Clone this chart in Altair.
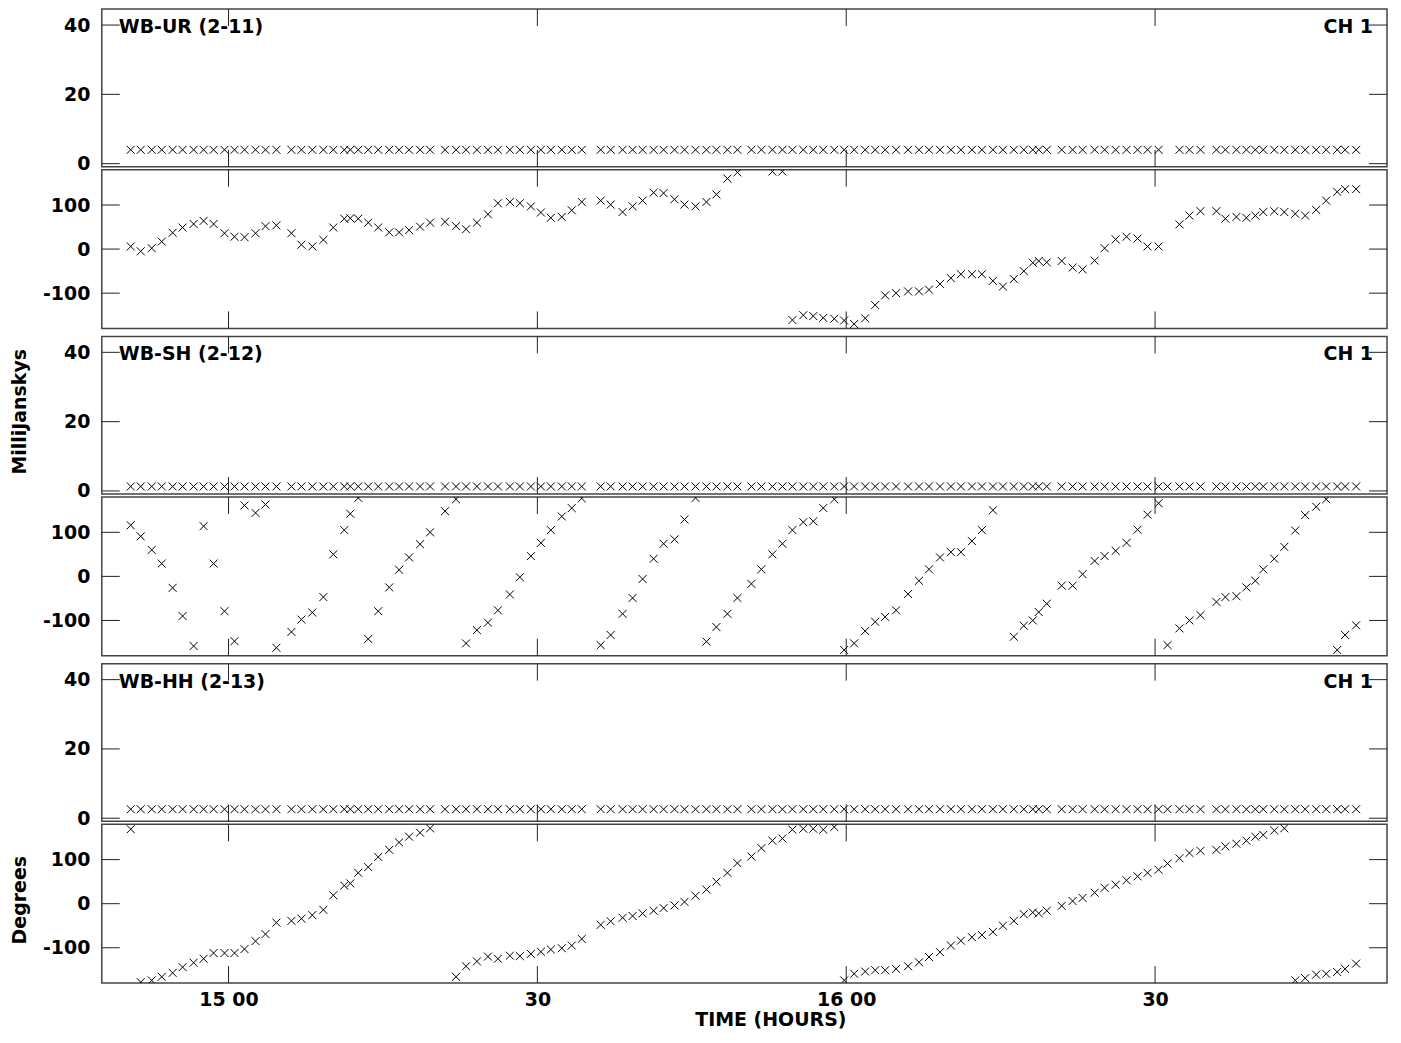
import altair as alt
import pandas as pd

# ---------------- data ----------------
# integration times, minutes after 15:00
TIME_MIN = [
    -9.50, -8.53, -7.46, -6.49, -5.43, -4.46, -3.39, -2.42, -1.45, -0.39, 0.58, 1.55, 2.62, 3.59, 4.65,
    6.11, 7.08, 8.14, 9.21, 10.18, 11.24, 11.83, 12.60, 13.57, 14.54, 15.61, 16.57, 17.54, 18.61, 19.58,
    21.03, 22.10, 23.07, 24.13, 25.20, 26.17, 27.33, 28.30, 29.37, 30.34, 31.31, 32.37, 33.34, 34.31,
    36.15, 37.12, 38.28, 39.25, 40.22, 41.29, 42.26, 43.32, 44.29, 45.36, 46.42, 47.39, 48.46, 49.43,
    50.79, 51.76, 52.83, 53.80, 54.77, 55.83, 56.80, 57.77, 58.84, 59.80, 60.77, 61.84, 62.81, 63.78, 64.84,
    66.01, 67.07, 68.04, 69.11, 70.17, 71.14, 72.21, 73.18, 74.25, 75.22, 76.28, 77.25, 78.12, 78.70, 79.48,
    80.93, 81.99, 82.96, 84.13, 85.10, 86.17, 87.23, 88.30, 89.27, 90.34,
    91.21, 92.37, 93.34, 94.41,
    95.96, 96.83, 97.90, 98.87, 99.74, 100.51, 101.58, 102.55, 103.62, 104.58, 105.65, 106.62, 107.69, 108.46, 109.53,
]

N = None

AMP_WB_UR = [
    4.0, 4.0, 4.0, 4.0, 4.0, 4.0, 4.0, 4.0, 4.0, 4.0, 4.0, 4.0, 4.0, 4.0, 4.0,
    4.0, 4.0, 4.0, 4.0, 4.0, 4.0, 4.0, 4.0, 4.0, 4.0, 4.0, 4.0, 4.0, 4.0, 4.0,
    4.0, 4.0, 4.0, 4.0, 4.0, 4.0, 4.0, 4.0, 4.0, 4.0, 4.0, 4.0, 4.0, 4.0,
    4.0, 4.0, 4.0, 4.0, 4.0, 4.0, 4.0, 4.0, 4.0, 4.0, 4.0, 4.0, 4.0, 4.0,
    4.0, 4.0, 4.0, 4.0, 4.0, 4.0, 4.0, 4.0, 4.0, 4.0, 4.0, 4.0, 4.0, 4.0, 4.0,
    4.0, 4.0, 4.0, 4.0, 4.0, 4.0, 4.0, 4.0, 4.0, 4.0, 4.0, 4.0, 4.0, 4.0, 4.0,
    4.0, 4.0, 4.0, 4.0, 4.0, 4.0, 4.0, 4.0, 4.0, 4.0,
    N, 4.0, 4.0, 4.0,
    4.0, 4.0, 4.0, 4.0, 4.0, 4.0, 4.0, 4.0, 4.0, 4.0, 4.0, 4.0, 4.0, 4.0, 4.0,
]
PHASE_WB_UR = [
    6, -5, 2, 17, 37, 49, 57, 64, 57, 36, 28, 27, 36, 52, 54,
    36, 10, 6, 21, 49, 69, 70, 69, 60, 49, 38, 38, 43, 51, 60,
    62, 52, 45, 60, 79, 104, 107, 104, 97, 83, 71, 73, 88, 107,
    110, 101, 84, 97, 110, 128, 127, 113, 101, 97, 107, 124, 160, 174,
    N, N, 176, 176, -161, -150, -152, -156, -158, -162, -170, -157, -127, -105, -100,
    -96, -96, -92, -79, -66, -57, -57, -57, -72, -85, -68, -50, -31, -27, -30,
    -27, -42, -46, -26, 2, 22, 28, 24, 6, 6,
    N, 56, 76, 86,
    86, 69, 73, 71, 76, 84, 86, 84, 80, 76, 89, 110, 130, 136, 136,
]

AMP_WB_SH = [
    1.3, 1.3, 1.3, 1.3, 1.3, 1.3, 1.3, 1.3, 1.3, 1.3, 1.3, 1.3, 1.3, 1.3, 1.3,
    1.3, 1.3, 1.3, 1.3, 1.3, 1.3, 1.3, 1.3, 1.3, 1.3, 1.3, 1.3, 1.3, 1.3, 1.3,
    1.3, 1.3, 1.3, 1.3, 1.3, 1.3, 1.3, 1.3, 1.3, 1.3, 1.3, 1.3, 1.3, 1.3,
    1.3, 1.3, 1.3, 1.3, 1.3, 1.3, 1.3, 1.3, 1.3, 1.3, 1.3, 1.3, 1.3, 1.3,
    1.3, 1.3, 1.3, 1.3, 1.3, 1.3, 1.3, 1.3, 1.3, 1.3, 1.3, 1.3, 1.3, 1.3, 1.3,
    1.3, 1.3, 1.3, 1.3, 1.3, 1.3, 1.3, 1.3, 1.3, 1.3, 1.3, 1.3, 1.3, 1.3, 1.3,
    1.3, 1.3, 1.3, 1.3, 1.3, 1.3, 1.3, 1.3, 1.3, 1.3,
    1.3, 1.3, 1.3, 1.3,
    1.3, 1.3, 1.3, 1.3, 1.3, 1.3, 1.3, 1.3, 1.3, 1.3, 1.3, 1.3, 1.3, 1.3, 1.3,
]
PHASE_WB_SH = [
    116, 91, 60, 29, -26, -90, -158, 114, 29, -79, -147, 161, 144, 163, -162,
    -126, -98, -82, -47, 50, 105, 142, 178, -142, -79, -25, 15, 43, 73, 100,
    148, 175, -152, -122, -105, -77, -41, -2, 46, 76, 105, 136, 155, 177,
    -156, -133, -85, -49, -6, 40, 74, 84, 129, 178, -148, -115, -85, -49,
    -17, 16, 50, 74, 105, 123, 125, 155, 175, -167, -152, -124, -103, -92, -77,
    -40, -10, 16, 43, 55, 55, 80, 105, 150, N, -137, -112, -100, -81, -62,
    -21, -21, 5, 35, 46, 58, 76, 106, 140, 166,
    -156, -118, -100, -88,
    -58, -47, -45, -25, -10, 16, 40, 67, 104, 139, 158, 175, -167, -133, -111,
]

AMP_WB_HH = [
    2.6, 2.6, 2.6, 2.6, 2.6, 2.6, 2.6, 2.6, 2.6, 2.6, 2.6, 2.6, 2.6, 2.6, 2.6,
    2.6, 2.6, 2.6, 2.6, 2.6, 2.6, 2.6, 2.6, 2.6, 2.6, 2.6, 2.6, 2.6, 2.6, 2.6,
    2.6, 2.6, 2.6, 2.6, 2.6, 2.6, 2.6, 2.6, 2.6, 2.6, 2.6, 2.6, 2.6, 2.6,
    2.6, 2.6, 2.6, 2.6, 2.6, 2.6, 2.6, 2.6, 2.6, 2.6, 2.6, 2.6, 2.6, 2.6,
    2.6, 2.6, 2.6, 2.6, 2.6, 2.6, 2.6, 2.6, 2.6, 2.6, 2.6, 2.6, 2.6, 2.6, 2.6,
    2.6, 2.6, 2.6, 2.6, 2.6, 2.6, 2.6, 2.6, 2.6, 2.6, 2.6, 2.6, 2.6, 2.6, 2.6,
    2.6, 2.6, 2.6, 2.6, 2.6, 2.6, 2.6, 2.6, 2.6, 2.6,
    2.6, 2.6, 2.6, 2.6,
    2.6, 2.6, 2.6, 2.6, 2.6, 2.6, 2.6, 2.6, 2.6, 2.6, 2.6, 2.6, 2.6, 2.6, 2.6,
]
PHASE_WB_HH = [
    169, -178, -174, -166, -157, -144, -134, -125, -112, -112, -112, -103, -85, -69, -43,
    -39, -34, -26, -14, 19, 41, 46, 70, 83, 106, 122, 139, 152, 161, 171,
    N, -166, -142, -131, -120, -125, -118, -119, -114, -109, -104, -101, -95, -80,
    -48, -40, -32, -28, -22, -16, -10, -4, 4, 18, 32, 50, 70, 92,
    107, 126, 143, 148, 168, 170, 170, 168, 174, -174, -159, -154, -151, -151, -148,
    -142, -133, -121, -110, -95, -84, -76, -71, -64, -50, -39, -24, -20, -22, -16,
    -5, 6, 13, 25, 36, 43, 53, 62, 70, 77,
    91, 103, 115, 120,
    122, 130, 136, 143, 152, 156, 166, 171, -174, -169, -161, -159, -155, -148, -136,
]

BASELINE_LABELS = ["WB-UR (2-11)", "WB-SH (2-12)", "WB-HH (2-13)"]
CHANNEL_LABEL = "CH 1"
X_TICKS = [0, 30, 60, 90]
X_TICK_LABELS = ["15 00", "30", "16 00", "30"]
AMP_TICKS = [0, 20, 40]
PHASE_TICKS = [-100, 0, 100]

# ---------------- layout / style ----------------
W = 1288
H_AMP = 158
H_PH = 159
XDOM = [-12.31, 112.53]
AMP_DOM = [-0.9, 44.6]
PH_DOM = [-180, 180]
TICK = 17
FONT = "DejaVu Sans"
FS = 19
CROSS = "M -1 -1 L 1 1 M 1 -1 L -1 1"

xlabel_expr = " : ".join(
    f"datum.value == {v} ? '{s}'" for v, s in zip(X_TICKS[:-1], X_TICK_LABELS[:-1])
) + f" : '{X_TICK_LABELS[-1]}'"


def panel(values, domain, height, yticks, ytitle="", corner=None, bottom_axis=False):
    df = pd.DataFrame({"t": TIME_MIN, "v": values}).dropna()
    xscale = alt.Scale(domain=XDOM, nice=False, zero=False)
    yscale = alt.Scale(domain=domain, nice=False, zero=False)
    if bottom_axis:
        xaxis = alt.Axis(values=X_TICKS, labelExpr=xlabel_expr, ticks=False, tickSize=0,
                         domain=False, grid=False, labelPadding=8, labelFlush=False,
                         title="TIME (HOURS)", titleX=670, titleAlign="center", titlePadding=1)
    else:
        xaxis = None
    ykw = dict(values=yticks, labelExpr="datum.value + ''", ticks=False, tickSize=0,
               domain=False, grid=False, labelPadding=12, title=ytitle)
    if ytitle:
        ykw.update(titleX=-72, titleY=height / 2 - 4, titleAngle=-90, titleBaseline="bottom",
                   titleAlign="center")
    yaxis = alt.Axis(**ykw)
    X = alt.X("t:Q", scale=xscale, axis=xaxis)
    Y = alt.Y("v:Q", scale=yscale, axis=yaxis)

    pts = alt.Chart(df).mark_point(shape=CROSS, filled=False, stroke="black",
                                   strokeWidth=1, size=64, opacity=1, clip=True).encode(x=X, y=Y)
    xt = pd.DataFrame({"t": X_TICKS})
    yt = pd.DataFrame({"v": yticks})
    rule = dict(color="#222222", strokeWidth=1)
    top = alt.Chart(xt).mark_rule(**rule).encode(x=X, y=alt.value(0), y2=alt.value(TICK))
    bot = alt.Chart(xt).mark_rule(**rule).encode(x=X, y=alt.value(height - TICK), y2=alt.value(height))
    left = alt.Chart(yt).mark_rule(**rule).encode(y=Y, x=alt.value(0), x2=alt.value(TICK + 1))
    right = alt.Chart(yt).mark_rule(**rule).encode(y=Y, x=alt.value(W - TICK - 1), x2=alt.value(W))
    layers = [pts, top, bot, left, right]
    if corner:
        tl = pd.DataFrame({"t": [XDOM[0]], "v": [40], "label": [corner]})
        tr = pd.DataFrame({"t": [XDOM[1]], "v": [40], "label": [CHANNEL_LABEL]})
        txt = dict(font=FONT, fontSize=FS, fontWeight="bold", color="black", baseline="middle", dy=2)
        layers.append(alt.Chart(tl).mark_text(align="left", dx=17, **txt).encode(x=X, y=Y, text="label:N"))
        layers.append(alt.Chart(tr).mark_text(align="right", dx=-14, **txt).encode(x=X, y=Y, text="label:N"))
    return alt.layer(*layers).properties(width=W, height=height)


def spacer():
    return alt.Chart(pd.DataFrame({"t": [0.0]})).mark_point(opacity=0, size=1).encode(
        x=alt.X("t:Q", axis=None), y=alt.value(1)
    ).properties(width=W, height=2, view=alt.ViewBackground(strokeWidth=0))


amps = [AMP_WB_UR, AMP_WB_SH, AMP_WB_HH]
phases = [PHASE_WB_UR, PHASE_WB_SH, PHASE_WB_HH]
rows = []
for i in range(3):
    rows.append(panel(amps[i], AMP_DOM, H_AMP, AMP_TICKS,
                      ytitle="MilliJanskys" if i == 1 else "", corner=BASELINE_LABELS[i]))
    rows.append(panel(phases[i], PH_DOM, H_PH, PHASE_TICKS,
                      ytitle="Degrees" if i == 2 else "", bottom_axis=(i == 2)))
    if i < 2:
        rows.append(spacer())

chart = alt.vconcat(*rows, spacing=3, bounds="flush").properties(
    padding={"left": 2, "top": -2, "right": 4, "bottom": 4},
    background="white",
).configure_view(
    stroke="#444444", strokeWidth=1.5
).configure_axis(
    labelFont=FONT, labelFontSize=FS, labelFontWeight="bold", labelColor="black",
    titleFont=FONT, titleFontSize=FS, titleFontWeight="bold", titleColor="black",
)

chart.save("out.html", embed_options={"renderer": "svg", "actions": False})
